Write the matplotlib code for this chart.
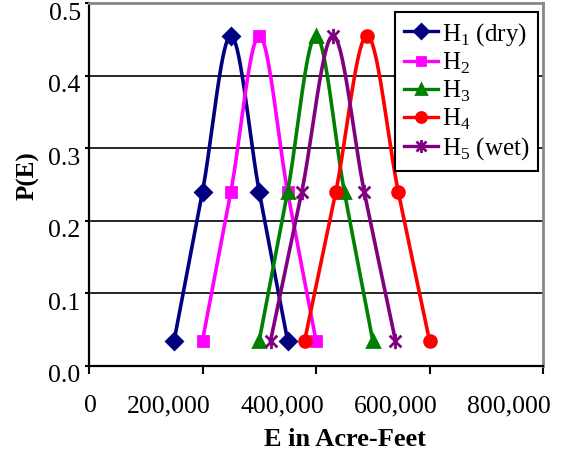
import numpy as np
import matplotlib
matplotlib.use("Agg")
import matplotlib.pyplot as plt
from matplotlib.path import Path
from matplotlib.transforms import ScaledTranslation

plt.rcParams['font.family'] = ['Liberation Serif', 'DejaVu Serif']
plt.rcParams['mathtext.fontset'] = 'custom'
plt.rcParams['mathtext.rm'] = 'Liberation Serif'

# data
probs = [0.035, 0.24, 0.455, 0.24, 0.035]
h1_x = [150000, 200000, 250000, 300000, 350000]
h2_x = [200000, 250000, 300000, 350000, 400000]
h3_x = [300000, 350000, 400000, 450000, 500000]
h4_x = [380000, 435000, 490000, 545000, 600000]
h5_x = [320000, 375000, 430000, 485000, 540000]
labels = ['H$_1$ (dry)', 'H$_2$', 'H$_3$', 'H$_4$', 'H$_5$ (wet)']
colors = ['#000080', '#FF00FF', '#008000', '#FF0000', '#800080']

x_ticks = [0, 200000, 400000, 600000, 800000]
x_ticklabels = ['0', '200,000', '400,000', '600,000', '800,000']
y_ticks = [0.0, 0.1, 0.2, 0.3, 0.4, 0.5]

# asterisk marker: X plus vertical bar
star = Path([(-1, -1), (1, 1), (-1, 1), (1, -1), (0, -1.3), (0, 1.3)],
            [Path.MOVETO, Path.LINETO, Path.MOVETO, Path.LINETO, Path.MOVETO, Path.LINETO])
markers = ['D', 's', '^', 'o', star]
msizes = [8, 7, 9, 8.5, 11]


def smooth(xs, ys, n=40):
    # excel-like smoothed line (catmull-rom through the points)
    P = np.column_stack([xs, ys]).astype(float)
    P = np.vstack([P[0], P, P[-1]])
    t = np.linspace(0, 1, n)[:, None]
    segs = []
    for i in range(1, len(P) - 2):
        p0, p1, p2, p3 = P[i - 1], P[i], P[i + 1], P[i + 2]
        seg = 0.5 * (2 * p1 + (p2 - p0) * t + (2 * p0 - 5 * p1 + 4 * p2 - p3) * t ** 2
                     + (-p0 + 3 * p1 - 3 * p2 + p3) * t ** 3)
        segs.append(seg)
    s = np.vstack(segs)
    return s[:, 0], s[:, 1]


fig = plt.figure(figsize=(5.63, 4.53), dpi=100)
ax = fig.add_axes([89 / 563, 87 / 453, 454 / 563, 363 / 453])

series = [h1_x, h2_x, h3_x, h4_x, h5_x]
for xs, lab, c, m, ms in zip(series, labels, colors, markers, msizes):
    sx, sy = smooth(xs, probs)
    ax.plot(sx, sy, color=c, lw=2.6, zorder=3)
    ax.plot(xs, probs, ls='none', marker=m, ms=ms, color=c, mec=c, mew=2, zorder=4)
    # legend proxy
    ax.plot([], [], color=c, lw=2.4, marker=m, ms=ms * 0.85, mec=c, mew=2, label=lab)

ax.set_xlim(0, 800000)
ax.set_ylim(0, 0.5)
ax.set_xticks(x_ticks)
ax.set_xticklabels(x_ticklabels)
ax.set_yticks(y_ticks)
ax.set_yticklabels(['%.1f' % v for v in y_ticks])

for v in y_ticks[1:-1]:
    ax.axhline(v, color='black', lw=1.2, zorder=1)

for s in ['left', 'bottom']:
    ax.spines[s].set_color('black')
    ax.spines[s].set_linewidth(1.6)
for s in ['top', 'right']:
    ax.spines[s].set_color('#888888')
    ax.spines[s].set_linewidth(2)

ax.tick_params(axis='x', direction='out', length=6, width=1.5, labelsize=18.5, pad=15)
ax.tick_params(axis='y', direction='out', length=3, width=1.5, labelsize=18.5, pad=3)

# the original's tick labels sit off their ticks
for lbl in ax.get_xticklabels():
    lbl.set_ha('right')
    lbl.set_transform(lbl.get_transform() + ScaledTranslation(0.08, 0, fig.dpi_scale_trans))
for lbl in ax.get_yticklabels():
    lbl.set_transform(lbl.get_transform() + ScaledTranslation(0, -0.08, fig.dpi_scale_trans))

ax.set_xlabel('E in Acre-Feet', fontsize=19, fontweight='bold')
ax.xaxis.label.set_va('center')
ax.xaxis.set_label_coords((345 - 89) / 454, -(440 - 366) / 363)
ax.set_ylabel('P(E)', fontsize=18, fontweight='bold')
ax.yaxis.label.set_va('center')
ax.yaxis.set_label_coords(-(89 - 28) / 454, (366 - 176) / 363)

leg = ax.legend(loc='upper right', bbox_to_anchor=((538 - 89) / 454, (366 - 12) / 363),
                borderaxespad=0, fontsize=18, frameon=True, fancybox=False,
                handlelength=1.35, handletextpad=0.15, labelspacing=0.12, borderpad=0.35)
leg.get_frame().set_edgecolor('black')
leg.get_frame().set_linewidth(1.5)
leg.get_frame().set_alpha(1)

fig.savefig('out.png', dpi=100)
